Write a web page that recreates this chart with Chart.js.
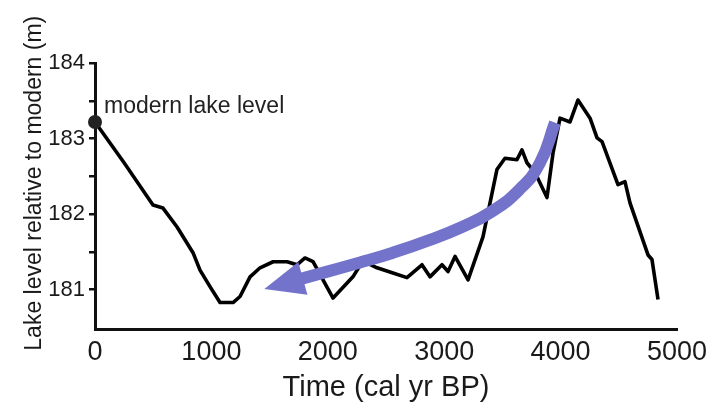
<!DOCTYPE html>
<html>
<head>
<meta charset="utf-8">
<script src="https://cdn.jsdelivr.net/npm/chart.js@4"></script>
<style>
  body { margin: 0; background: #fff; }
</style>
</head>
<body>
<canvas id="graph" width="720" height="411"></canvas>
<script>
const ctx = document.getElementById("graph");

// lake level record (cal yr BP, m)
const years = [
  0, 250, 498, 584, 705, 842, 902, 988, 1074, 1186, 1246, 1332, 1418, 1530,
  1650, 1735, 1804, 1873, 2045, 2216, 2300, 2423, 2560, 2680, 2809, 2878,
  2981, 3033, 3093, 3205, 3333, 3453, 3522, 3625, 3668, 3711, 3780, 3883,
  3935, 3995, 4081, 4149, 4253, 4313, 4356, 4493, 4553, 4596, 4751, 4785, 4837,
];
const levels = [
  183.22, 182.68, 182.12, 182.08, 181.83, 181.49, 181.26, 181.04, 180.83,
  180.83, 180.91, 181.17, 181.29, 181.37, 181.37, 181.33, 181.42, 181.37,
  180.89, 181.17, 181.38, 181.29, 181.22, 181.16, 181.33, 181.17, 181.33,
  181.24, 181.44, 181.13, 181.7, 182.59, 182.74, 182.72, 182.85, 182.68,
  182.55, 182.22, 182.81, 183.27, 183.22, 183.51, 183.27, 183.01, 182.96,
  182.39, 182.43, 182.15, 181.46, 181.4, 180.87,
];

// modern lake level marker
const modernYear = 0;
const modernLevel = 183.22;
const modernLabel = "modern lake level";

// purple trend arrow (shaft path, ends at arrow head base)
const arrowX = [3952, 3823, 3643, 3393, 3153, 2878, 2560, 2277, 1761];
const arrowY = [183.21, 182.68, 182.32, 182.02, 181.83, 181.66, 181.49, 181.36, 181.14];

const yTicks = [181, 181.5, 182, 182.5, 183, 183.5, 184];
const xTicks = [0, 1000, 2000, 3000, 4000, 5000];

const fontFamily = '"Liberation Sans", Arial, sans-serif';
const arrowColor = "#7373cb";

const annotations = {
  id: "annotations",
  afterDatasetsDraw(chart) {
    const c = chart.ctx;
    const pts = chart.getDatasetMeta(0).data;
    const end = pts[pts.length - 1];
    const prev = pts[pts.length - 2];
    let dx = end.x - prev.x;
    let dy = end.y - prev.y;
    const len = Math.hypot(dx, dy);
    dx /= len;
    dy /= len;
    const bx = end.x - dx * 3;
    const by = end.y - dy * 3;
    c.save();
    c.fillStyle = arrowColor;
    c.beginPath();
    c.moveTo(bx + dx * 40, by + dy * 40);
    c.lineTo(bx - dy * 17, by + dx * 17);
    c.lineTo(bx + dy * 17, by - dx * 17);
    c.closePath();
    c.fill();

    const dot = chart.getDatasetMeta(1).data[0];
    c.fillStyle = "#222";
    c.font = "23px " + fontFamily;
    c.textAlign = "left";
    c.textBaseline = "alphabetic";
    c.fillText(modernLabel, dot.x + 9, dot.y - 9);
    c.restore();
  },
};

new Chart(ctx, {
  type: "line",
  data: {
    datasets: [
      {
        data: arrowX.map((x, i) => ({ x: x, y: arrowY[i] })),
        borderColor: arrowColor,
        borderWidth: 12,
        tension: 0.5,
        pointRadius: 0,
        clip: false,
      },
      {
        data: [{ x: modernYear, y: modernLevel }],
        showLine: false,
        pointRadius: 7,
        pointBackgroundColor: "#222",
        pointBorderWidth: 0,
        clip: false,
      },
      {
        data: years.map((x, i) => ({ x: x, y: levels[i] })),
        borderColor: "#000",
        borderWidth: 3.6,
        borderJoinStyle: "round",
        tension: 0,
        pointRadius: 0,
        clip: false,
      },
    ],
  },
  options: {
    responsive: false,
    animation: false,
    events: [],
    layout: {
      padding: { top: 63, right: 43, left: 0, bottom: 0 },
    },
    plugins: {
      legend: { display: false },
      tooltip: { enabled: false },
    },
    scales: {
      x: {
        type: "linear",
        min: 0,
        max: 5000,
        afterBuildTicks: (axis) => {
          axis.ticks = xTicks.map((v) => ({ value: v }));
        },
        afterFit: (axis) => {
          axis.height = 82;
        },
        ticks: {
          padding: 7,
          color: "#1a1a1a",
          maxRotation: 0,
          autoSkip: false,
          font: { family: fontFamily, size: 27 },
          callback: function (value) {
            return String(value);
          },
        },
        grid: { display: false, drawTicks: false },
        border: { display: true, color: "#111", width: 3 },
        title: {
          display: true,
          text: "Time (cal yr BP)",
          color: "#1a1a1a",
          padding: { top: 0, bottom: 6 },
          font: { family: fontFamily, size: 29 },
        },
      },
      y: {
        min: 180.48,
        max: 184,
        afterBuildTicks: (axis) => {
          axis.ticks = yTicks.map((v) => ({ value: v }));
        },
        afterFit: (axis) => {
          axis.width = 95;
        },
        ticks: {
          padding: 4,
          color: "#1a1a1a",
          autoSkip: false,
          font: { family: fontFamily, size: 22 },
          callback: function (value) {
            return Number.isInteger(value) ? String(value) : "";
          },
        },
        grid: {
          drawOnChartArea: false,
          drawTicks: true,
          tickLength: 6,
          lineWidth: 2.5,
          color: "#111",
        },
        border: { display: true, color: "#111", width: 3 },
        title: {
          display: true,
          text: "    Lake level relative to modern (m)",
          color: "#1a1a1a",
          padding: { top: 21, bottom: 0 },
          font: { family: fontFamily, size: 23 },
        },
      },
    },
  },
  plugins: [annotations],
});
</script>
</body>
</html>
